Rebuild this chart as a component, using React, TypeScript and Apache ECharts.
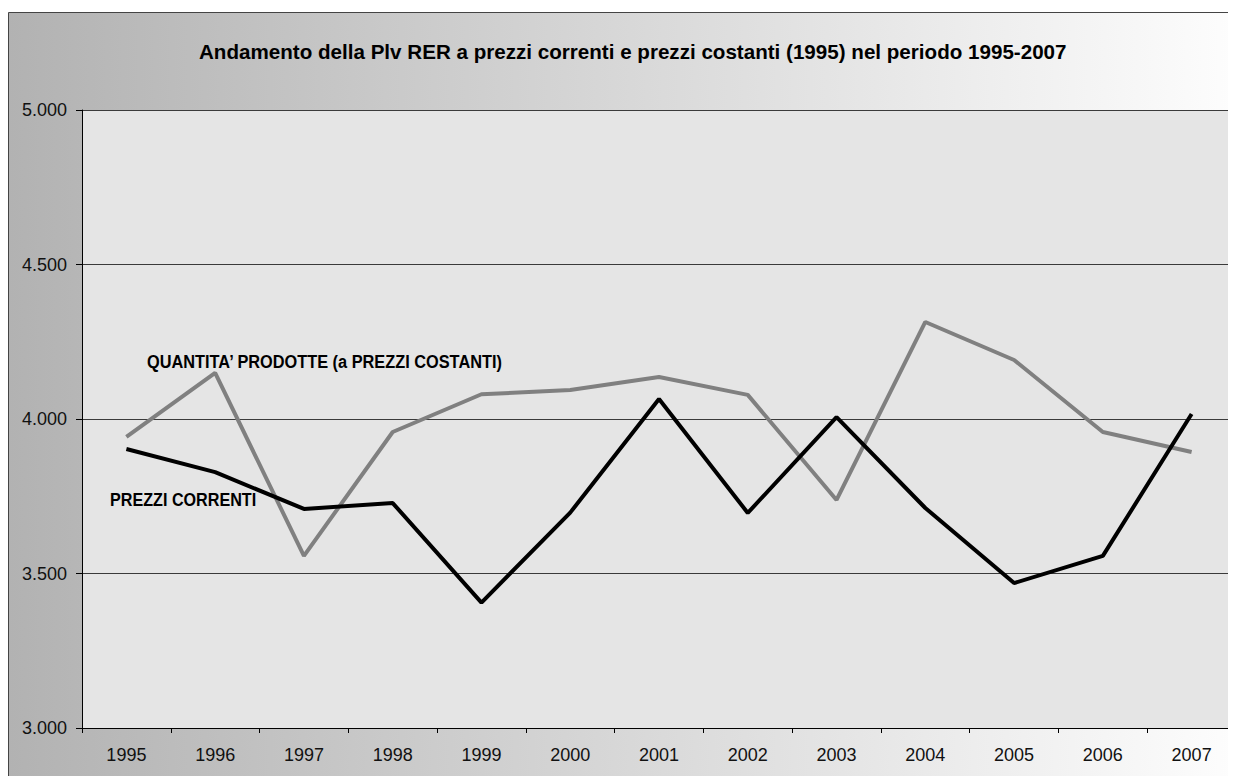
import React, { useEffect, useRef } from "react";
import * as echarts from "echarts";

const years = ["1995","1996","1997","1998","1999","2000","2001","2002","2003","2004","2005","2006","2007"];
const prezziCostanti = [3942, 4149, 3557, 3958, 4080, 4094, 4136, 4078, 3738, 4314, 4191, 3958, 3893];
const prezziCorrenti = [3903, 3828, 3709, 3728, 3406, 3697, 4065, 3696, 4006, 3712, 3469, 3557, 4016];
const yTicks = { min: 3000, max: 5000, interval: 500 };
const titleText = "Andamento della Plv RER a prezzi correnti e prezzi costanti (1995) nel periodo 1995-2007";
const labelCostanti = "QUANTITA\u2019 PRODOTTE (a PREZZI COSTANTI)";
const labelCorrenti = "PREZZI CORRENTI";

const fmt = (v: number) => {
  const s = String(Math.round(v));
  return s.replace(/\B(?=(\d{3})+(?!\d))/g, ".");
};

export default function App() {
  const ref = useRef<HTMLDivElement>(null);
  useEffect(() => {
    if (!ref.current) return;
    document.documentElement.style.overflow = "hidden";
    const chart = echarts.init(ref.current, undefined, { renderer: "svg" });
    const font = "'Liberation Sans', Arial, sans-serif";
    chart.setOption({
      animation: false,
      textStyle: { fontFamily: font },
      title: {
        text: titleText,
        left: 186,
        top: 28,
        textStyle: { fontFamily: font, fontSize: 20.6, fontWeight: "bold", color: "#000" },
      },
      graphic: [
        {
          type: "rect",
          z: -100,
          silent: true,
          shape: { x: 0.5, y: 4.5, width: 1260, height: 800 },
          style: {
            fill: new echarts.graphic.LinearGradient(0, 0, 1, 0, [
              { offset: 0, color: "#b2b2b2" },
              { offset: 1, color: "#ffffff" },
            ]),
            stroke: "#444",
            lineWidth: 1,
          },
        },
        {
          type: "text",
          z: 100,
          x: 139,
          y: 354,
          scaleX: 0.86,
          style: {
            text: labelCostanti,
            fontFamily: font,
            fontSize: 19,
            fontWeight: "bold",
            fill: "#000",
            verticalAlign: "middle",
          },
        },
        {
          type: "text",
          z: 100,
          x: 102,
          y: 492,
          scaleX: 0.85,
          style: {
            text: labelCorrenti,
            fontFamily: font,
            fontSize: 19,
            fontWeight: "bold",
            fill: "#000",
            verticalAlign: "middle",
          },
        },
      ],
      grid: {
        left: 74,
        top: 102,
        width: 1156,
        height: 618,
        show: true,
        backgroundColor: "#e5e5e5",
        borderWidth: 0,
      },
      xAxis: {
        type: "category",
        data: years,
        boundaryGap: true,
        axisLine: { show: true, lineStyle: { color: "#000", width: 1 } },
        axisTick: { show: true, alignWithLabel: false, length: 5, lineStyle: { color: "#000" } },
        axisLabel: { color: "#111", fontSize: 18, margin: 18, fontFamily: font },
        splitLine: { show: false },
      },
      yAxis: {
        type: "value",
        min: yTicks.min,
        max: yTicks.max,
        interval: yTicks.interval,
        axisLine: { show: true, lineStyle: { color: "#000", width: 1 } },
        axisTick: { show: true, length: 6, lineStyle: { color: "#000" } },
        axisLabel: { color: "#111", fontSize: 18, margin: 15, fontFamily: font, formatter: fmt },
        splitLine: { show: true, lineStyle: { color: "#3a3a3a", width: 1 } },
      },
      series: [
        {
          name: "Prezzi costanti",
          type: "line",
          data: prezziCostanti,
          symbol: "none",
          lineStyle: { color: "#808080", width: 4 },
          z: 2,
        },
        {
          name: "Prezzi correnti",
          type: "line",
          data: prezziCorrenti,
          symbol: "none",
          lineStyle: { color: "#000000", width: 4 },
          z: 3,
        },
      ],
    });
    return () => chart.dispose();
  }, []);
  return <div ref={ref} style={{ width: 1228, height: 768 }} />;
}
